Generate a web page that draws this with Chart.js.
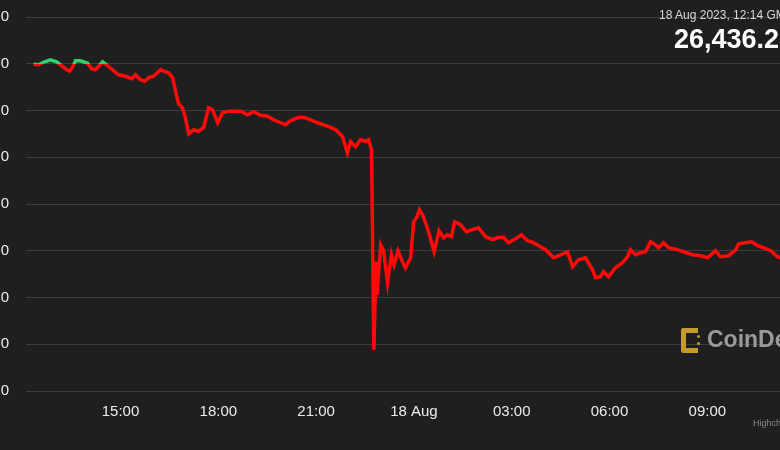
<!DOCTYPE html>
<html>
<head>
<meta charset="utf-8">
<script src="https://cdn.jsdelivr.net/npm/chart.js@4.4.0/dist/chart.umd.min.js"></script>
<style>
  body { margin: 0; width: 780px; height: 450px; overflow: hidden; position: relative; background: #1f1f1f; font-family: 'Liberation Sans', Arial, sans-serif; }
  #wrap { position: absolute; left: -34px; top: 0; width: 830px; height: 450px; }
  .stamp { position: absolute; left: 659px; top: 8px; font-size: 12px; color: #d8d8d8; white-space: nowrap; }
  .price { position: absolute; left: 674px; top: 24px; font-size: 27px; font-weight: bold; color: #ffffff; white-space: nowrap; }
  .mark { position: absolute; left: 681px; top: 328px; width: 12px; height: 15px; border: 5px solid #c49a2c; border-right: none; border-radius: 3px 0 0 3px; }
  .dots { position: absolute; left: 697px; top: 335px; width: 3px; height: 3px; background: #c49a2c; border-radius: 50%; box-shadow: 0 7px 0 #c49a2c; }
  .brand { position: absolute; left: 707px; top: 326px; font-size: 23px; font-weight: bold; color: #9a9a9a; white-space: nowrap; }
  .credit { position: absolute; left: 753px; top: 418px; font-size: 9px; color: #8a8a8a; white-space: nowrap; }
</style>
</head>
<body>
<div id="wrap"><canvas id="myChart"></canvas></div>
<div class="stamp">18 Aug 2023, 12:14 GMT+1</div>
<div class="price">26,436.28</div>
<div class="mark"></div>
<div class="dots"></div>
<div class="brand">CoinDesk</div>
<div class="credit">Highcharts.com</div>
<script>
// hours counted from 17 Aug 00:00
const hours = [12.33, 12.48, 12.67, 12.85, 13.04, 13.16, 13.31, 13.44, 13.53, 13.62, 13.77, 13.99, 14.11, 14.23, 14.33, 14.45, 14.57, 14.75, 14.94,
  15.15, 15.34, 15.46, 15.61, 15.74, 15.86, 16.01, 16.13, 16.23, 16.32, 16.47, 16.60,
  16.69, 16.78, 16.90, 16.99, 17.09, 17.24, 17.39, 17.55, 17.70, 17.82, 17.98, 18.13, 18.31, 18.68,
  18.90, 19.08, 19.29, 19.51, 19.69, 19.91, 20.06, 20.21, 20.43, 20.61, 20.83, 21.04, 21.35, 21.60, 21.81, 21.96, 22.06, 22.21, 22.36, 22.52, 22.61, 22.70,
  22.77, 22.84, 22.87, 22.98, 23.07, 23.19, 23.31, 23.39, 23.51, 23.65, 23.74, 23.90,
  23.99, 24.08, 24.17, 24.29, 24.45, 24.62, 24.77, 24.91, 25.03, 25.15, 25.25, 25.43, 25.61, 25.80, 25.98,
  26.20, 26.41, 26.56, 26.75, 26.90, 27.12, 27.30, 27.48, 27.67, 27.88, 28.04, 28.28, 28.50, 28.71,
  28.87, 29.05, 29.26, 29.48, 29.57, 29.72, 29.82, 29.97, 30.18, 30.40, 30.55, 30.64,
  30.80, 30.95, 31.10, 31.26, 31.41, 31.50, 31.66, 31.81, 32.09, 32.27, 32.55, 32.79, 33.01,
  33.25, 33.40, 33.65, 33.87, 33.96, 34.17, 34.36, 34.54, 34.72, 34.94, 35.15, 35.31, 35.55];

const prices = [28495, 28489, 28521, 28543, 28521, 28489, 28447, 28420, 28463, 28532, 28532, 28505, 28447, 28436, 28473, 28521, 28489, 28436, 28382,
  28366, 28340, 28382, 28329, 28313, 28350, 28366, 28404, 28436, 28420, 28404, 28350,
  28201, 28072, 28029, 27922, 27751, 27794, 27778, 27816, 28029, 28008, 27869, 27976, 27992, 27992,
  27955, 27987, 27949, 27939, 27901, 27869, 27848, 27890, 27922, 27928, 27901, 27869, 27832, 27794, 27719, 27548, 27666, 27612, 27687, 27671, 27687, 27580,
  25441, 26382, 26029, 26564, 26500, 26158, 26457, 26350, 26500, 26382, 26318, 26425,
  26810, 26853, 26939, 26864, 26703, 26489, 26714, 26639, 26671, 26650, 26810, 26778, 26703, 26725, 26746,
  26650, 26618, 26639, 26644, 26586, 26628, 26671, 26607, 26586, 26543, 26511, 26425, 26457, 26489,
  26329, 26404, 26425, 26297, 26211, 26222, 26275, 26222, 26318, 26372, 26436, 26511,
  26457, 26479, 26489, 26596, 26564, 26532, 26586, 26532, 26511, 26489, 26457, 26447, 26425,
  26500, 26436, 26447, 26511, 26575, 26586, 26596, 26554, 26532, 26500, 26436, 26415, 26436];

const openPrice = 28495;

const tickHours = [15, 18, 21, 24, 27, 30, 33];
const tickLabels = ['15:00', '18:00', '21:00', '18 Aug', '03:00', '06:00', '09:00'];
const priceTicks = [25000, 25500, 26000, 26500, 27000, 27500, 28000, 28500, 29000];

const up = '#2fd16b';
const down = '#ff0a0a';
const ctx = document.getElementById('myChart');

const myChart = new Chart(ctx, {
  type: 'line',
  data: {
    datasets: [
      {
        label: 'BTC',
        data: hours.map((h, i) => ({ x: h, y: prices[i] })),
        borderWidth: 3.5,
        pointRadius: 0,
        tension: 0,
        borderColor: (c) => {
          const chart = c.chart;
          const area = chart.chartArea;
          if (!area) return down;
          const yPix = chart.scales.y.getPixelForValue(openPrice);
          const stop = Math.min(Math.max((yPix - area.top) / (area.bottom - area.top), 0), 1);
          const g = chart.ctx.createLinearGradient(0, area.top, 0, area.bottom);
          g.addColorStop(0, up);
          g.addColorStop(stop, up);
          g.addColorStop(stop, down);
          g.addColorStop(1, down);
          return g;
        },
      },
    ],
  },
  options: {
    responsive: true,
    maintainAspectRatio: false,
    animation: false,
    layout: { padding: { top: 17, right: 0, left: 0, bottom: 0 } },
    scales: {
      x: {
        type: 'linear',
        min: 12.1,
        max: 35.72,
        afterBuildTicks: (axis) => {
          axis.ticks = tickHours.map((v) => ({ value: v }));
        },
        afterFit: (scale) => {
          scale.height = 59;
        },
        grid: { display: false, drawTicks: false },
        border: { display: false },
        ticks: {
          autoSkip: false,
          maxRotation: 0,
          padding: 12,
          color: '#ececec',
          font: { family: "'Liberation Sans', Arial, sans-serif", size: 15 },
          callback: (value) => tickLabels[tickHours.indexOf(value)],
        },
      },
      y: {
        min: 25000,
        max: 29000,
        afterBuildTicks: (axis) => {
          axis.ticks = priceTicks.map((v) => ({ value: v }));
        },
        afterFit: (scale) => {
          scale.width = 60;
          // tick padding would otherwise push the plot top down
          scale.paddingTop = 0;
          scale.paddingBottom = 0;
        },
        grid: { color: '#3d3d3d', lineWidth: 1, drawTicks: false },
        border: { display: false },
        ticks: {
          padding: 17,
          color: '#ececec',
          font: { family: "'Liberation Sans', Arial, sans-serif", size: 15 },
          callback: (value) => value.toLocaleString('en-US'),
        },
      },
    },
    plugins: {
      legend: { display: false },
      tooltip: { enabled: false },
    },
  },
});
</script>
</body>
</html>
